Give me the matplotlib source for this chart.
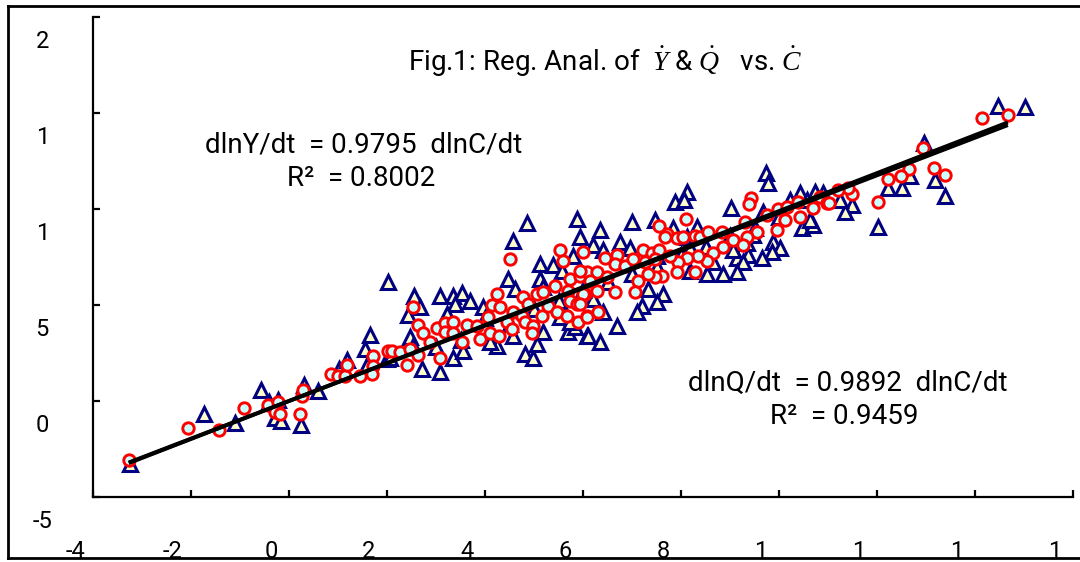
import numpy as np
import matplotlib
matplotlib.use('Agg')
import matplotlib.pyplot as plt
from matplotlib.lines import Line2D
from matplotlib.transforms import ScaledTranslation

plt.rcParams['font.family'] = ['Roboto', 'DejaVu Sans']
plt.rcParams['mathtext.fontset'] = 'custom'
plt.rcParams['mathtext.it'] = 'Liberation Serif:italic'
plt.rcParams['mathtext.rm'] = 'Liberation Serif'

# dlnC/dt (x) vs dlnY/dt (triangles) and dlnQ/dt (circles)
y_x = [-3.24, -1.73, -1.10, -0.57, -0.41, -0.29, -0.16, -0.22, 0.24, 0.31, 0.59, 1.02, 1.18,
       2.02, 1.65, 1.55, 1.59, 2.00, 2.55, 2.43, 2.67, 2.47, 2.53, 3.08, 3.35, 3.53, 3.69, 3.39,
       3.22, 2.71, 3.08, 3.35, 3.55, 2.06, 4.86, 4.57, 5.88, 5.94, 5.12, 5.39, 5.57, 4.47, 4.61,
       5.12, 5.18, 3.96, 4.24, 4.82, 4.98, 5.06, 5.18, 5.69, 5.84, 6.08, 4.57, 4.10, 5.53, 5.73,
       5.80, 9.73, 9.78, 8.12, 7.88, 8.06, 9.02, 7.00, 7.47, 6.35, 6.76, 6.96, 6.20, 6.41, 7.84,
       8.33, 8.12, 9.67, 9.88, 10.02, 9.86, 9.65, 9.37, 9.14, 9.27, 9.06, 8.65, 8.86, 9.14, 8.53,
       8.18, 7.63, 7.51, 7.20, 7.10, 7.33, 6.69, 6.35, 6.10, 6.20, 6.41, 10.47, 10.69, 10.63,
       10.43, 10.73, 10.57, 10.22, 8.18, 7.51, 9.35, 9.47, 14.47, 15.02, 12.96, 13.18, 13.39,
       12.67, 12.51, 12.22, 12.02, 11.49, 11.35, 11.24, 10.90, 3.00, 3.50, 4.00, 4.50, 5.00,
       5.50, 6.00, 6.50, 7.00, 7.50, 8.00, 8.50, 9.00, 9.50, 10.00]
y_y = [-3.30, -0.67, -1.13, 0.57, -0.05, -0.88, -1.03, 0.05, -1.24, 0.82, 0.52, 1.65, 2.11,
       6.19, 3.45, 2.73, 1.86, 2.20, 5.46, 4.48, 4.90, 3.35, 2.89, 5.46, 5.46, 5.62, 5.21, 5.05,
       4.54, 1.65, 1.49, 2.22, 2.58, 2.22, 9.28, 8.35, 9.48, 8.56, 7.16, 7.06, 6.75, 6.34, 5.82,
       6.34, 5.93, 4.90, 2.89, 2.47, 2.22, 2.99, 3.61, 3.61, 3.87, 3.40, 3.40, 3.09, 4.38, 4.12,
       7.53, 11.90, 11.34, 10.88, 10.36, 10.46, 10.05, 9.33, 9.43, 8.92, 8.30, 7.99, 8.14, 7.89,
       9.02, 9.07, 8.56, 9.85, 8.30, 7.99, 7.78, 7.47, 7.63, 7.47, 7.22, 7.89, 7.22, 6.60, 6.70,
       6.60, 6.75, 5.57, 5.15, 4.95, 4.64, 5.82, 3.92, 3.09, 3.40, 5.31, 4.64, 9.02, 9.18, 9.43,
       10.82, 10.88, 10.46, 10.46, 7.99, 7.53, 8.25, 8.66, 15.36, 15.31, 13.45, 11.49, 10.67,
       11.70, 11.08, 11.08, 9.07, 10.21, 9.85, 10.46, 10.82, 2.80, 3.20, 4.30, 4.00, 4.80,
       5.20, 5.80, 6.20, 6.60, 7.00, 7.60, 8.00, 8.60, 9.00, 9.60]

q_x = [-3.27, -2.06, -1.43, -0.92, -0.43, -0.22, -0.29, -0.18, 0.22, 0.27, 0.29, 0.86, 1.00,
       1.14, 1.18, 1.71, 1.71, 1.69, 1.45, 2.02, 4.51, 5.53, 5.59, 6.00, 2.53, 2.63, 2.73, 3.02,
       3.18, 3.35, 3.18, 3.35, 3.53, 3.63, 3.84, 3.90, 3.08, 2.41, 2.10, 2.27, 2.47, 2.63, 2.88,
       4.06, 4.14, 4.24, 4.31, 4.10, 4.29, 4.45, 4.57, 4.55, 4.76, 4.78, 4.88, 4.82, 4.98, 4.96,
       5.06, 5.18, 5.16, 5.29, 5.43, 5.47, 5.69, 5.73, 5.67, 5.73, 5.88, 5.90, 5.94, 6.08, 6.04,
       6.08, 9.43, 9.39, 8.10, 7.55, 7.71, 7.67, 6.45, 6.69, 7.22, 7.41, 7.55, 7.92, 8.04, 8.29,
       8.39, 8.55, 8.84, 9.06, 9.31, 9.55, 9.35, 9.27, 9.96, 9.76, 9.98, 10.12, 10.16, 10.43,
       10.39, 10.69, 10.84, 10.98, 8.86, 8.65, 8.53, 8.35, 8.12, 7.94, 7.92, 8.29, 7.78, 7.61,
       7.47, 7.33, 7.12, 7.06, 6.65, 6.65, 6.86, 7.02, 6.29, 6.49, 6.14, 5.94, 6.29, 6.00, 5.94,
       6.31, 6.08, 7.27, 7.47, 14.14, 14.67, 12.94, 13.16, 13.39, 12.65, 12.49, 12.22, 12.02,
       11.49, 11.41, 11.20, 11.02]
q_y = [-3.09, -1.39, -1.49, -0.36, -0.21, -0.05, -0.57, -0.67, -0.67, 0.26, 0.57, 1.39, 1.29,
       1.29, 1.86, 2.32, 1.80, 1.39, 1.29, 2.63, 7.42, 7.89, 7.27, 7.78, 4.90, 3.97, 3.56, 3.81,
       4.07, 4.12, 3.61, 3.56, 3.09, 3.97, 3.92, 3.25, 2.22, 1.86, 2.63, 2.53, 2.73, 2.37, 3.09,
       4.38, 5.00, 5.57, 4.90, 3.56, 3.40, 4.12, 4.64, 3.76, 4.43, 5.41, 5.05, 4.12, 3.92, 3.56,
       5.57, 5.67, 4.43, 4.95, 5.98, 4.64, 5.72, 6.34, 4.43, 5.21, 5.05, 4.12, 6.49, 6.70, 5.57,
       4.43, 10.57, 10.26, 9.48, 9.12, 8.71, 8.56, 7.47, 7.63, 7.89, 7.73, 7.89, 8.50, 8.56, 8.61,
       8.56, 8.81, 8.81, 8.40, 9.33, 8.81, 8.56, 8.14, 8.92, 9.69, 10.00, 9.43, 10.10, 9.59,
       10.36, 10.05, 10.62, 10.31, 8.04, 7.73, 7.27, 7.53, 7.47, 7.22, 6.70, 6.70, 7.53, 6.49,
       6.44, 6.60, 6.24, 5.67, 5.67, 7.11, 7.01, 7.37, 6.70, 6.44, 6.24, 6.75, 5.72, 5.57, 5.05,
       4.64, 4.38, 7.22, 7.37, 14.74, 14.90, 13.20, 12.11, 11.75, 12.06, 11.70, 11.55, 10.36,
       10.77, 11.08, 10.98, 10.31]

slope_y, slope_q = 0.9795, 0.9892

x_ticks = [-4, -2, 0, 2, 4, 6, 8, 10, 12, 14, 16]
x_labels = ['-4', '-2', '0', '2', '4', '6', '8', '1', '1', '1', '1']
y_ticks = [-5, 0, 5, 10, 15, 20]
y_labels = ['-5', '0', '5', '1', '1', '2']

fig = plt.figure(figsize=(10.8, 5.62), dpi=100)
ax = fig.add_axes([93 / 1080, 1 - 497 / 562, 980 / 1080, 480 / 562])

ax.plot(y_x, y_y, linestyle='none', marker='^', markersize=9.5,
        markerfacecolor='#FFFFCC', markeredgecolor='#000080', markeredgewidth=2.2, zorder=2)
ax.plot(q_x, q_y, linestyle='none', marker='o', markersize=8.2,
        markerfacecolor='#CCFFFF', markeredgecolor='#FF0000', markeredgewidth=2.1, zorder=3)

xs = np.array([min(q_x), max(q_x)])
ax.plot(xs, slope_y * xs, color='black', lw=2.8, solid_capstyle='butt', zorder=4)
ax.plot(xs, slope_q * xs, color='black', lw=2.8, solid_capstyle='butt', zorder=4)

ax.set_xlim(-4, 16)
ax.set_ylim(-5, 20)
for s in ['top', 'right']:
    ax.spines[s].set_visible(False)
for s in ['left', 'bottom']:
    ax.spines[s].set_linewidth(1.6)

ax.set_xticks(x_ticks, x_labels)
ax.set_yticks(y_ticks, y_labels)
ax.tick_params(direction='in', length=5, width=1.6, labelsize=17)
ax.tick_params(axis='y', pad=36.5)
ax.tick_params(axis='x', pad=31)

for lab in ax.get_yticklabels():
    lab.set_horizontalalignment('center')
    lab.set_transform(lab.get_transform() + ScaledTranslation(0, -0.22, fig.dpi_scale_trans))
for lab in ax.get_xticklabels():
    lab.set_transform(lab.get_transform() + ScaledTranslation(-0.18, 0, fig.dpi_scale_trans))

fig.text(605 / 1080, 1 - 62 / 562,
         r'Fig.1: Reg. Anal. of  $\dot{Y}$ & $\dot{Q}$   vs. $\dot{C}$',
         fontsize=20, ha='center', va='center')
fig.text(205 / 1080, 1 - 145 / 562, 'dlnY/dt  = 0.9795  dlnC/dt', fontsize=20, va='center')
fig.text(287 / 1080, 1 - 178 / 562, 'R\u00b2  = 0.8002', fontsize=20, va='center')
fig.text(688 / 1080, 1 - 383 / 562, 'dlnQ/dt  = 0.9892  dlnC/dt', fontsize=20, va='center')
fig.text(770 / 1080, 1 - 417 / 562, 'R\u00b2  = 0.9459', fontsize=20, va='center')

# outer chart border (right edge falls outside the image)
fx0, fy0, fy1 = 8 / 1080, 1 - 558 / 562, 1 - 6 / 562
for xd, yd in [([fx0, fx0], [fy0, fy1]), ([fx0, 1.01], [fy1, fy1]), ([fx0, 1.01], [fy0, fy0])]:
    fig.add_artist(Line2D(xd, yd, transform=fig.transFigure, color='black', lw=2, zorder=10))

fig.savefig('out.png', dpi=100)
